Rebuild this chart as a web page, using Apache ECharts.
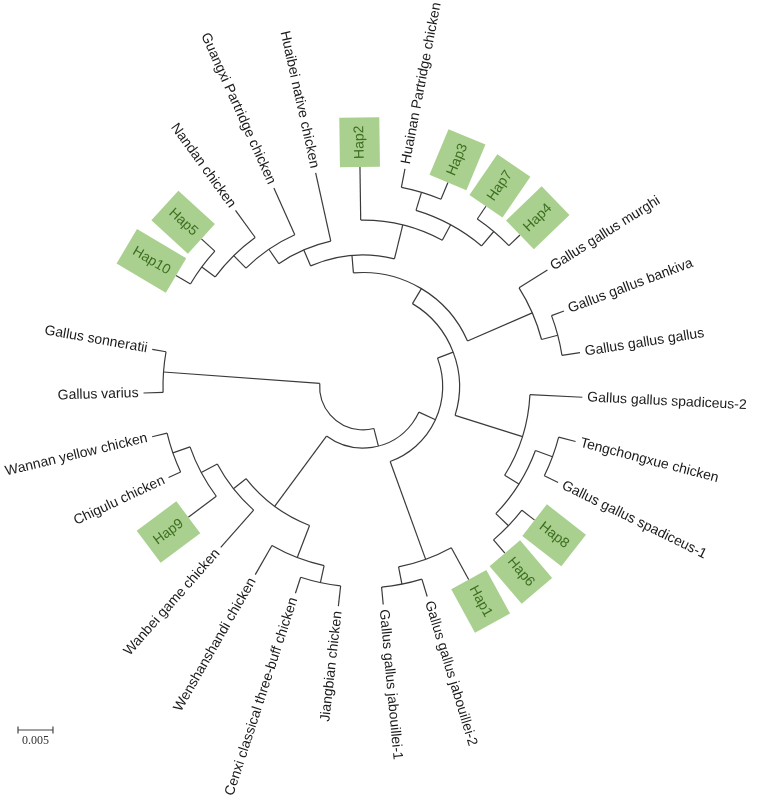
<!DOCTYPE html>
<html>
<head>
<meta charset="utf-8">
<script src="https://cdn.jsdelivr.net/npm/echarts@6/dist/echarts.min.js"></script>
<style>
html, body { margin: 0; background: #fff; }
#main { width: 760px; height: 800px; }
</style>
</head>
<body>
<div id="main"></div>
<script>
// leaves, going round anticlockwise from Gallus sonneratii
var leafNames = ['Gallus sonneratii', 'Gallus varius', 'Wannan yellow chicken', 'Chigulu chicken', 'Hap9',
    'Wanbei game chicken', 'Wenshanshandi chicken', 'Cenxi classical three-buff chicken', 'Jiangbian chicken',
    'Gallus gallus jabouillei-1', 'Gallus gallus jabouillei-2', 'Hap1', 'Hap6', 'Hap8',
    'Gallus gallus spadiceus-1', 'Tengchongxue chicken', 'Gallus gallus spadiceus-2',
    'Gallus gallus gallus', 'Gallus gallus bankiva', 'Gallus gallus murghi', 'Hap4', 'Hap7', 'Hap3',
    'Huainan Partridge chicken', 'Hap2', 'Huaibei native chicken', 'Guangxi Partridge chicken',
    'Nandan chicken', 'Hap5', 'Hap10'];
// distance of each tip from the root
var leafDepth = [0.0244, 0.0252, 0.0248, 0.0245, 0.0250, 0.0245, 0.0248, 0.0249, 0.0254,
    0.0251, 0.0252, 0.0253, 0.0251, 0.0249, 0.0249, 0.0252, 0.0252,
    0.0252, 0.0245, 0.0250, 0.0250, 0.0250, 0.0254, 0.0255, 0.0252,
    0.0251, 0.0249, 0.0249, 0.0251, 0.0249];

// internal nodes: id, distance from root, children
var nodeIds = ['root', 'nO', 'nB', 'nLL', 'nM1', 'nN2', 'nN1', 'nM2', 'nN3', 'nC', 'nJ', 'nK', 'nD',
    'nSP', 'nQ', 'nP2', 'nP1', 'nE', 'nGG', 'nBG', 'nX', 'nY', 'nZ', 'nW2', 'nW1', 'nV', 'nR', 'nT', 'nS'];
var nodeDepth = [0, 0.0224, 0.0026, 0.0151, 0.0174, 0.0200, 0.0226, 0.0200, 0.0225, 0.0052, 0.0201, 0.0226, 0.0076,
    0.0177, 0.0201, 0.0226, 0.0227, 0.0101, 0.0202, 0.0226, 0.0126, 0.0176, 0.0201, 0.0228, 0.0228, 0.0151, 0.0176, 0.0201, 0.0225];
var nodeKids = [
    ['nO', 'nB'],
    ['Gallus sonneratii', 'Gallus varius'],
    ['nLL', 'nC'],
    ['nM1', 'nM2'],
    ['nN2', 'Wanbei game chicken'],
    ['nN1', 'Hap9'],
    ['Wannan yellow chicken', 'Chigulu chicken'],
    ['Wenshanshandi chicken', 'nN3'],
    ['Cenxi classical three-buff chicken', 'Jiangbian chicken'],
    ['nJ', 'nD'],
    ['nK', 'Hap1'],
    ['Gallus gallus jabouillei-1', 'Gallus gallus jabouillei-2'],
    ['nSP', 'nE'],
    ['nQ', 'Gallus gallus spadiceus-2'],
    ['nP2', 'nP1'],
    ['Hap6', 'Hap8'],
    ['Gallus gallus spadiceus-1', 'Tengchongxue chicken'],
    ['nGG', 'nX'],
    ['nBG', 'Gallus gallus murghi'],
    ['Gallus gallus gallus', 'Gallus gallus bankiva'],
    ['nY', 'nV'],
    ['nZ', 'Hap2'],
    ['nW2', 'nW1'],
    ['Hap4', 'Hap7'],
    ['Hap3', 'Huainan Partridge chicken'],
    ['Huaibei native chicken', 'nR'],
    ['Guangxi Partridge chicken', 'nT'],
    ['Nandan chicken', 'nS'],
    ['Hap5', 'Hap10']
];

var scaleBar = 0.005;
var rootOffset = 0.0062;   // empty circle in the middle
var radiusMax = 0.0367;
var angleSpan = 30.77;     // leaf slots round the circle, gap left at the outgroup

var polarCenter = [363, 386.5], polarR = 300;
var pxPerUnit = polarR / (radiusMax + rootOffset);
var lineColor = '#3a3a3a';

var pos = {}, depth = {}, parentOf = {};
leafNames.forEach(function (n, i) { pos[n] = i; depth[n] = leafDepth[i]; });
nodeIds.forEach(function (id, i) {
    depth[id] = nodeDepth[i];
    nodeKids[i].forEach(function (k) { parentOf[k] = id; });
});
function place(id) {
    if (pos[id] !== undefined) return pos[id];
    var ks = nodeKids[nodeIds.indexOf(id)].map(place);
    pos[id] = (ks[0] + ks[ks.length - 1]) / 2;
    return pos[id];
}
place('root');

var marks = [];
nodeIds.concat(leafNames).forEach(function (id) {
    var ni = nodeIds.indexOf(id);
    var m = {
        name: id, leaf: ni < 0, depth: depth[id], pos: pos[id],
        parentDepth: parentOf[id] ? depth[parentOf[id]] : null
    };
    if (ni >= 0) {
        var ps = nodeKids[ni].map(function (k) { return pos[k]; });
        m.kidMin = Math.min.apply(null, ps);
        m.kidMax = Math.max.apply(null, ps);
    }
    marks.push(m);
});

function renderItem(params, api) {
    var m = marks[params.dataIndex];
    var cx = params.coordSys.cx, cy = params.coordSys.cy;
    var kids = [];
    var p1 = api.coord([m.depth, m.pos]);
    if (m.parentDepth !== null) {
        var p0 = api.coord([m.parentDepth, m.pos]);
        kids.push({
            type: 'line',
            shape: { x1: p0[0], y1: p0[1], x2: p1[0], y2: p1[1] },
            style: { stroke: lineColor, lineWidth: 1.2 }
        });
    }
    if (!m.leaf) {
        var a = api.coord([m.depth, m.kidMin]), b = api.coord([m.depth, m.kidMax]);
        kids.push({
            type: 'arc',
            shape: {
                cx: cx, cy: cy, r: Math.sqrt((a[0] - cx) * (a[0] - cx) + (a[1] - cy) * (a[1] - cy)),
                startAngle: Math.atan2(a[1] - cy, a[0] - cx),
                endAngle: Math.atan2(b[1] - cy, b[0] - cx),
                clockwise: false
            },
            style: { stroke: lineColor, fill: 'none', lineWidth: 1.2 }
        });
    } else {
        var phi = Math.atan2(p1[1] - cy, p1[0] - cx);
        var deg = (phi * 180 / Math.PI + 360) % 360;
        var flip = deg > 90 && deg < 265;
        var hap = /^Hap/.test(m.name);
        var gap = hap ? 0 : 5;
        var st = {
            text: m.name,
            fontSize: 14,
            fontFamily: 'Liberation Sans, Arial, sans-serif',
            fill: hap ? '#3d6e22' : '#1a1a1a',
            align: flip ? 'right' : 'left',
            verticalAlign: 'middle'
        };
        if (hap) {
            st.backgroundColor = '#a9d08e';
            st.padding = [13, 8];
        }
        kids.push({
            type: 'text',
            x: p1[0] + Math.cos(phi) * gap,
            y: p1[1] + Math.sin(phi) * gap,
            rotation: flip ? Math.PI - phi : -phi,
            style: st
        });
    }
    return { type: 'group', children: kids };
}

var chart = echarts.init(document.getElementById('main'));
var barW = scaleBar * pxPerUnit;
var option = {
    backgroundColor: '#fff',
    animation: false,
    polar: { center: polarCenter, radius: polarR },
    angleAxis: {
        type: 'value', min: 0, max: angleSpan, startAngle: 170, clockwise: false, show: false
    },
    radiusAxis: { type: 'value', min: -rootOffset, max: radiusMax, show: false },
    grid: { left: 18, top: 724, width: barW, height: 12 },
    xAxis: { type: 'value', min: 0, max: scaleBar, show: false },
    yAxis: { type: 'value', min: -1, max: 1, show: false },
    graphic: [{
        type: 'text', x: 18 + barW / 2, y: 735,
        style: { text: '0.005', align: 'center', fontSize: 12, fontFamily: 'Liberation Serif, Times New Roman, serif', fill: '#333' }
    }],
    series: [{
        type: 'custom',
        coordinateSystem: 'polar',
        silent: true,
        renderItem: renderItem,
        data: marks.map(function (m) { return [m.depth, m.pos]; })
    }, {
        type: 'line',
        silent: true,
        data: [[0, 0], [scaleBar, 0]],
        symbol: 'rect',
        symbolSize: [1.2, 7],
        itemStyle: { color: '#444' },
        lineStyle: { color: '#444', width: 1.2 }
    }]
};
chart.setOption(option);
</script>
</body>
</html>
